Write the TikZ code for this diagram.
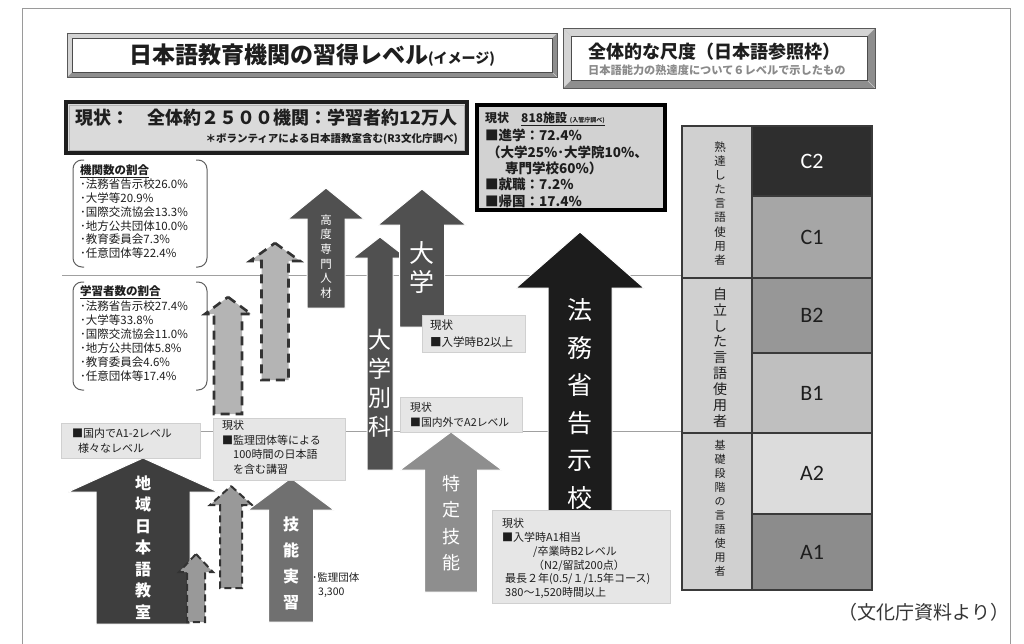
\documentclass[tikz,border=0pt]{standalone}
\usepackage{fontspec}
\setmainfont{Noto Sans CJK JP}
\newfontfamily\latf{Carlito}
\newcommand{\fs}[2]{\fontsize{#1}{#2}\selectfont}
\definecolor{bevlight}{HTML}{D4D4D4}
\definecolor{bevdark}{HTML}{8E8E8E}
\definecolor{framec}{HTML}{9A9A9A}
\definecolor{textc}{HTML}{1E1E1E}
\definecolor{statfill}{HTML}{DADADA}
\definecolor{boxfill}{HTML}{D2D2D2}
\definecolor{infofill}{HTML}{E6E6E6}
\definecolor{infodraw}{HTML}{D0D0D0}
\definecolor{linec}{HTML}{A0A0A0}
\definecolor{arrdark}{HTML}{505050}
\definecolor{arrchiiki}{HTML}{3E3E3E}
\definecolor{arrginou}{HTML}{707070}
\definecolor{arrtokutei}{HTML}{8E8E8E}
\definecolor{arrhomu}{HTML}{1C1C1C}
\definecolor{dashfill}{HTML}{B4B4B4}
\definecolor{dashdraw}{HTML}{333333}
\definecolor{tabdraw}{HTML}{3A3A3A}
\definecolor{grpfill}{HTML}{D0D0D0}
\definecolor{cCtwo}{HTML}{2E2E2E}
\definecolor{cCone}{HTML}{A6A6A6}
\definecolor{cBtwo}{HTML}{979797}
\definecolor{cBone}{HTML}{BFBFBF}
\definecolor{cAtwo}{HTML}{DCDCDC}
\definecolor{cAone}{HTML}{8C8C8C}
\definecolor{subgray}{HTML}{8A8A8A}
\newcommand{\myarrow}[7]{%
  \path[#1] (#2,#3) -- ({#2+#4},#5) -- ({#2+#6},#5) -- ({#2+#6},#7)
    -- ({#2-#6},#7) -- ({#2-#6},#5) -- ({#2-#4},#5) -- cycle;}
\newcommand{\bevelbox}[5]{%
  \fill[bevdark] (#1,#2) rectangle (#3,#4);
  \fill[bevlight] (#1,#2) -- (#3,#2) -- ({#3-#5},{#2+#5}) -- ({#1+#5},{#2+#5})
    -- ({#1+#5},{#4-#5}) -- (#1,#4) -- cycle;
  \draw[gray!40, line width=0.5] (#1,#2) -- ({#1+#5},{#2+#5}) (#3,#2) -- ({#3-#5},{#2+#5})
    (#1,#4) -- ({#1+#5},{#4-#5}) (#3,#4) -- ({#3-#5},{#4-#5});
  \draw[gray!70!black, line width=0.6] (#1,#2) rectangle (#3,#4);
  \draw[fill=white, draw=gray!60!black, line width=0.6] ({#1+#5},{#2+#5}) rectangle ({#3-#5},{#4-#5});}
\tikzset{
  txt/.style={inner sep=0pt, align=left, anchor=north west, text=textc},
  vtxt/.style={inner sep=0pt, align=center, text=white},
  infobox/.style={fill=infofill, draw=infodraw, line width=0.6},
  hline/.style={draw=linec, line width=1},
  brk/.style={draw=gray!75!black, line width=1, rounded corners=9},
  darkarrow/.style={fill=arrdark, draw=white, line width=1},
  dasharrow/.style={fill=dashfill, draw=dashdraw, line width=2.6, dash pattern=on 9pt off 6pt},
  smallarrow/.style={fill=dashfill!85!black, draw=dashdraw, line width=2, dash pattern=on 7pt off 4pt},
  lvl/.style={draw=tabdraw, line width=1.2, inner sep=0pt, minimum width=120, font=\latf\fs{22}{24}, text=textc},
  grp/.style={draw=tabdraw, line width=1.2, inner sep=0pt, minimum width=70, fill=grpfill}
}
\begin{document}
\begin{tikzpicture}[x=1pt,y=-1pt]
\useasboundingbox (0,0) rectangle (1024,643);
\fill[white] (0,0) rectangle (1024,643);
\draw[framec, line width=0.8] (22,8) rectangle (1010,700);

% horizontal level lines
\draw[hline] (62,275) -- (682,275);
\draw[hline] (62,431) -- (682,431);

% title frames
\bevelbox{67}{33}{557}{77}{5}
\node[inner sep=0pt, text=textc] (title) at (312,55)
  {{\bfseries\fs{23}{26}日本語教育機関の習得レベル}{\bfseries\fs{14}{16}(イメージ)}};
\bevelbox{563}{28}{875}{88}{8}
\node[inner sep=0pt, anchor=west, text=textc, font=\bfseries\fs{18}{20}] (scale) at (588,52) {全体的な尺度（日本語参照枠）};
\node[inner sep=0pt, anchor=west, text=subgray, font=\bfseries\fs{11.2}{13}] (scalesub) at (588,70) {日本語能力の熟達度について６レベルで示したもの};

% status box
\draw[fill=statfill, draw=textc, line width=4] (66,102) rectangle (467,153);
\draw[draw=gray!60, line width=0.6] (69,105) rectangle (464,150);
\node[txt, font=\bfseries\fs{18}{20}] (status) at (75,109) {現状：　全体約２５００機関：学習者約12万人};
\node[inner sep=0pt, anchor=north east, text=textc, font=\bfseries\fs{10.5}{12}] (statsub) at (458,133) {＊ボランティアによる日本語教室含む(R3文化庁調べ)};

% 818 box
\draw[fill=boxfill, draw=black, line width=4] (477,105) rectangle (665,210);
\node[txt, font=\bfseries\fs{12}{14}] (b818a) at (485,112.5)
  {現状　\underline{818施設 {\fs{6}{7}(入管庁調べ)}}};
\node[txt, font=\bfseries\fs{13.5}{16.3}] (b818b) at (485,129)
  {■進学：72.4\%\\\hspace*{2pt}（大学25\%･大学院10\%、\\\hspace*{20pt}専門学校60\%）\\■就職：7.2\%\\■帰国：17.4\%};

% brackets with ratios
\draw[brk] (84,160) -- (73,160) -- (73,267) -- (84,267);
\draw[brk] (196,160) -- (207,160) -- (207,267) -- (196,267);
\node[txt, font=\fs{11.5}{13.8}] (ratio1) at (80,164.8)
  {\textbf{\underline{機関数の割合}}\\･法務省告示校26.0\%\\･大学等20.9\%\\･国際交流協会13.3\%\\･地方公共団体10.0\%\\･教育委員会7.3\%\\･任意団体等22.4\%};
\draw[brk] (84,282) -- (73,282) -- (73,390) -- (84,390);
\draw[brk] (196,282) -- (207,282) -- (207,390) -- (196,390);
\node[txt, font=\fs{11.5}{14.1}] (ratio2) at (80,285.8)
  {\textbf{\underline{学習者数の割合}}\\･法務省告示校27.4\%\\･大学等33.8\%\\･国際交流協会11.0\%\\･地方公共団体5.8\%\\･教育委員会4.6\%\\･任意団体等17.4\%};

% arrows
\myarrow{dasharrow}{228}{297}{23}{314}{14}{414}
\myarrow{dasharrow}{275}{243}{25}{261}{13.5}{380}
\myarrow{darkarrow, fill=arrchiiki}{143}{458}{75}{492}{47}{624}
\myarrow{smallarrow}{231}{486}{21}{505}{11}{588}
\myarrow{smallarrow}{196}{554}{17}{572}{9}{622}
\myarrow{darkarrow, fill=arrginou}{291}{478}{43}{510}{22.5}{622}
\myarrow{darkarrow}{326}{188}{38}{219}{19}{308}
\myarrow{darkarrow}{380}{237}{27}{258}{13}{470}
\myarrow{darkarrow}{422}{189}{44}{225}{22.5}{327}
\myarrow{darkarrow, fill=arrtokutei}{451}{432}{51}{470}{26.5}{592}
\myarrow{darkarrow, fill=arrhomu}{580}{232}{64}{288}{32}{512}

\node[vtxt, font=\bfseries\fs{16}{21.5}] (chiiki) at (143,547.5) {地\\域\\日\\本\\語\\教\\室};
\node[vtxt, font=\bfseries\fs{16}{26}] (ginou) at (291,563.5) {技\\能\\実\\習};
\node[vtxt, font=\fs{11.5}{14.6}] (koudo) at (326,256.5) {高\\度\\専\\門\\人\\材};
\node[vtxt, font=\fs{23}{29}] (bekka) at (380,383.5) {大\\学\\別\\科};
\node[vtxt, font=\fs{25}{29}] (daigaku) at (422,267.5) {大\\学};
\node[vtxt, font=\fs{18}{26.5}] (tokutei) at (451,523) {特\\定\\技\\能};
\node[vtxt, font=\fs{25}{37.5}] (homu) at (580,404) {法\\務\\省\\告\\示\\校};

% info boxes
\path[infobox] (61,423) rectangle (200,458);
\node[txt, font=\fs{11}{15}] (kokunai) at (72,428) {■国内でA1-2レベル\\\hspace*{6pt}様々なレベル};
\path[infobox] (213,418) rectangle (345,480);
\node[txt, font=\fs{11}{14.7}] (kanri) at (222,420) {現状\\■監理団体等による\\\hspace*{11pt}100時間の日本語\\\hspace*{11pt}を含む講習};
\path[infobox] (422,315) rectangle (525,352);
\node[txt, font=\fs{11.5}{17}] (btwo) at (430,319.8) {現状\\■入学時B2以上};
\path[infobox] (400,397) rectangle (522,432);
\node[txt, font=\fs{10.8}{15}] (atwo) at (410,402.2) {現状\\■国内外でA2レベル};
\path[infobox] (492,510) rectangle (670,603);
\node[txt, font=\fs{11}{13.8}] (gakko) at (502,518.2)
  {現状\\■入学時A1相当\\\hspace*{31pt}/卒業時B2レベル\\\hspace*{31pt}（N2/留試200点）\\\hspace*{3pt}最長２年(0.5/１/1.5年コース)\\\hspace*{3pt}380～1,520時間以上};
\node[txt, font=\fs{10.5}{14}] (kanri3300) at (312,572) {･監理団体\\\hspace*{6pt}3,300};

% CEFR table
\node[grp, minimum height=152] (g1) at (717,202) {};
\node[grp, minimum height=155] (g2) at (717,355.5) {};
\node[grp, minimum height=157] (g3) at (717,511.5) {};
\node[vtxt, text=textc, font=\fs{11.5}{14.1}] (g1t) at (720,203.5) {熟\\達\\し\\た\\言\\語\\使\\用\\者};
\node[vtxt, text=textc, font=\fs{14}{15.9}] (g2t) at (720,357.5) {自\\立\\し\\た\\言\\語\\使\\用\\者};
\node[vtxt, text=textc, font=\fs{11}{14}] (g3t) at (720,508.5) {基\\礎\\段\\階\\の\\言\\語\\使\\用\\者};
\node[lvl, fill=cCtwo, text=white, minimum height=70] (ctwo) at (812,161) {C2};
\node[lvl, fill=cCone, minimum height=82] (cone) at (812,237) {C1};
\node[lvl, fill=cBtwo, minimum height=75] (btwolv) at (812,315.5) {B2};
\node[lvl, fill=cBone, minimum height=80] (bone) at (812,393) {B1};
\node[lvl, fill=cAtwo, minimum height=81] (atwolv) at (812,473.5) {A2};
\node[lvl, fill=cAone, minimum height=76] (aone) at (812,552) {A1};

\node[inner sep=0pt, text=textc!90, font=\fs{19}{21}] (source) at (924,612) {（文化庁資料より）};
\end{tikzpicture}
\end{document}
